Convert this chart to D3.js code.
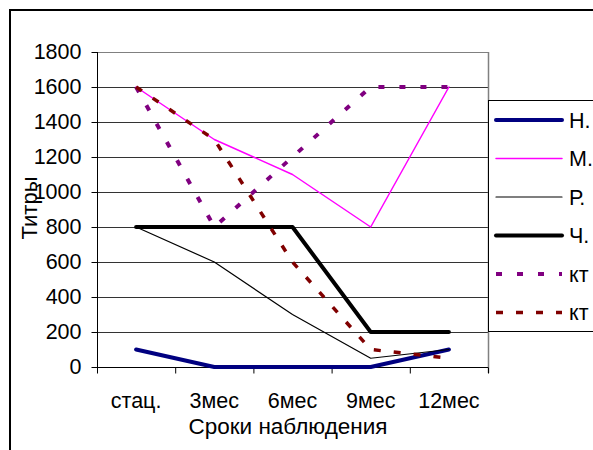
<!DOCTYPE html>
<html>
<head>
<meta charset="utf-8">
<script src="https://cdn.jsdelivr.net/npm/d3@7"></script>
<style>
  html, body { margin: 0; padding: 0; background: #fff; }
  svg { display: block; font-family: "Liberation Sans", Arial, sans-serif; }
</style>
</head>
<body>
<svg id="chart" width="593" height="450"></svg>
<script>
// Observation periods
const categories = ["стац.", "3мес", "6мес", "9мес", "12мес"];
const yTicks = [0, 200, 400, 600, 800, 1000, 1200, 1400, 1600, 1800];

// Titre values per series
const seriesN   = [100, 0, 0, 0, 100];
const seriesM   = [1600, 1300, 1100, 800, 1600];
const seriesR   = [800, 600, 300, 50, 100];
const seriesCh  = [800, 800, 800, 200, 200];
const seriesKt1 = [1600, 800, 1200, 1600, 1600];
const seriesKt2 = [1600, 1300, 600, 100, 50];

const seriesNames = ["Н.", "М.", "Р.", "Ч.", "кт", "кт"];

const series = [
  { name: seriesNames[0], values: seriesN,   color: "#000080", width: 4,   dash: null },
  { name: seriesNames[1], values: seriesM,   color: "#FF00FF", width: 1.5, dash: null },
  { name: seriesNames[2], values: seriesR,   color: "#000000", width: 1.2, dash: null },
  { name: seriesNames[3], values: seriesCh,  color: "#000000", width: 4,   dash: null },
  { name: seriesNames[4], values: seriesKt1, color: "#800080", width: 4,   dash: "6,15" },
  { name: seriesNames[5], values: seriesKt2, color: "#800000", width: 3.5, dash: "7,13" }
];

const FS = 21.5;

const svg = d3.select("#chart");

// Outer chart frame
svg.append("rect")
  .attr("x", 10).attr("y", 10)
  .attr("width", 600).attr("height", 460)
  .attr("fill", "none").attr("stroke", "#000").attr("stroke-width", 2);

const plot = { left: 97, right: 488, top: 52, bottom: 367 };

const x = d3.scaleBand()
  .domain(categories)
  .range([plot.left, plot.right])
  .padding(0);

const y = d3.scaleLinear()
  .domain([0, 1800])
  .range([plot.bottom, plot.top]);

// Gridlines
svg.append("g")
  .selectAll("line")
  .data(yTicks.filter(d => d > 0))
  .join("line")
  .attr("x1", plot.left).attr("x2", plot.right)
  .attr("y1", d => Math.round(y(d)) + 0.5).attr("y2", d => Math.round(y(d)) + 0.5)
  .attr("stroke", d => d === 1800 ? "#808080" : "#333")
  .attr("stroke-width", 1.2);

// Plot area right border
svg.append("line")
  .attr("x1", plot.right + 0.5).attr("x2", plot.right + 0.5)
  .attr("y1", plot.top).attr("y2", plot.bottom + 6)
  .attr("stroke", "#808080").attr("stroke-width", 1.5);

// Y axis
const yAxis = d3.axisLeft(y).tickValues(yTicks).tickFormat(d3.format("d")).tickSize(6).tickPadding(10);
const gy = svg.append("g")
  .attr("transform", `translate(${plot.left + 0.5},0)`)
  .call(yAxis);
gy.select(".domain").attr("stroke", "#000").attr("d", `M0,${plot.top}V${plot.bottom}`);
gy.selectAll(".tick line").attr("stroke", "#000");
gy.selectAll(".tick text")
  .attr("font-size", FS)
  .attr("font-family", "Liberation Sans, Arial, sans-serif")
  .attr("fill", "#000");

// X axis: ticks at category boundaries, labels at centres
const gx = svg.append("g")
  .attr("transform", `translate(0,${plot.bottom + 0.5})`);
gx.append("line")
  .attr("x1", plot.left).attr("x2", plot.right)
  .attr("stroke", "#000");
const boundaries = categories.map(c => x(c)).concat([plot.right]);
gx.selectAll("line.tick")
  .data(boundaries)
  .join("line")
  .attr("class", "tick")
  .attr("x1", d => d + 0.5).attr("x2", d => d + 0.5)
  .attr("y1", 0).attr("y2", 6)
  .attr("stroke", "#000");
gx.selectAll("text")
  .data(categories)
  .join("text")
  .attr("x", d => x(d) + x.bandwidth() / 2)
  .attr("y", 40)
  .attr("text-anchor", "middle")
  .attr("font-size", FS)
  .text(d => d);

// Axis titles
svg.append("text")
  .attr("x", 288).attr("y", 434)
  .attr("text-anchor", "middle")
  .attr("font-size", 22.5)
  .text("Сроки наблюдения");

svg.append("text")
  .attr("transform", "translate(37,208) rotate(-90)")
  .attr("text-anchor", "middle")
  .attr("font-size", 22)
  .text("Титры");

// Series lines
const line = d3.line()
  .x((d, i) => x(categories[i]) + x.bandwidth() / 2)
  .y(d => y(d));

svg.append("g")
  .selectAll("path")
  .data(series)
  .join("path")
  .attr("d", s => line(s.values))
  .attr("fill", "none")
  .attr("stroke", s => s.color)
  .attr("stroke-width", s => s.width)
  .attr("stroke-dasharray", s => s.dash)
  .attr("stroke-linejoin", "round")
  .attr("stroke-linecap", s => s.dash ? "butt" : "round");

// Legend
const legend = svg.append("g");
legend.append("rect")
  .attr("x", plot.right + 0.5).attr("y", 100.5)
  .attr("width", 200).attr("height", 231)
  .attr("fill", "#fff").attr("stroke", "#000").attr("stroke-width", 1);

const items = legend.selectAll("g.item")
  .data(series)
  .join("g")
  .attr("class", "item")
  .attr("transform", (d, i) => `translate(0,${120 + i * 38.5})`);
items.append("line")
  .attr("x1", 496).attr("x2", 562)
  .attr("y1", 0).attr("y2", 0)
  .attr("stroke", s => s.color)
  .attr("stroke-width", s => s.width)
  .attr("stroke-dasharray", s => s.dash)
  .attr("stroke-linecap", s => s.dash ? "butt" : "round");
items.append("text")
  .attr("x", 569).attr("y", 7.5)
  .attr("font-size", FS)
  .text(s => s.name);
</script>
</body>
</html>
